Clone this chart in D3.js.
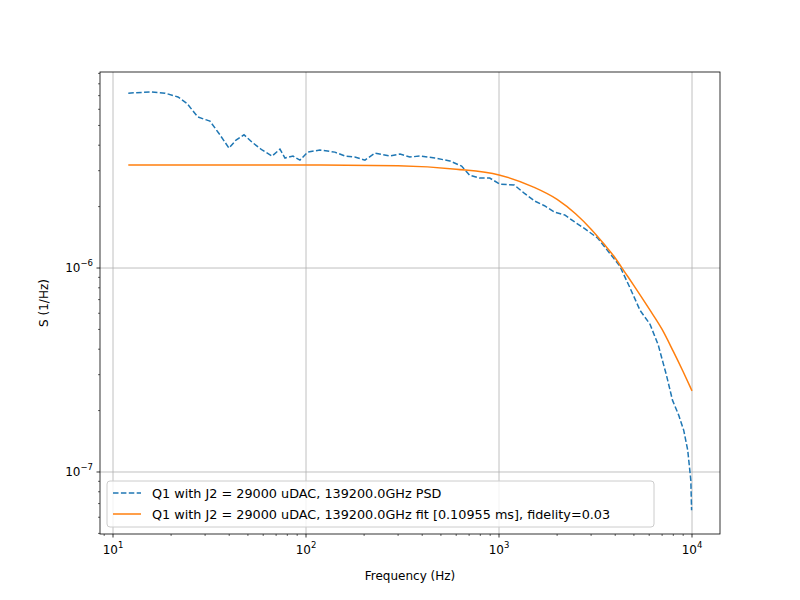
<!DOCTYPE html>
<html><head><meta charset="utf-8">
<script src="https://cdn.jsdelivr.net/npm/d3@7"></script>
<style>body{margin:0;background:#fff}text{font-family:"DejaVu Sans",sans-serif}</style>
</head><body><div id="chart"></div>
<script>
// PSD (frequency in Hz, S in 1/Hz)
const psdFreq = [12,15.5,18.6,21.7,24.2,27.5,31.8,35.8,39.9,43.4,47.7,52.5,59.2,66.7,73.3,77.8,85.6,93,102,118,141,159,179,202,228,272,307,345,390,465,556,640,705,795,895,1010,1200,1350,1530,1720,1940,2190,2470,2780,3250,3750,4230,4770,5380,6060,6680,7360,7920,8530,9060,9500,9860,9950];
const psdVal = [7.2e-6,7.3e-6,7.2e-6,6.9e-6,6.4e-6,5.5e-6,5.25e-6,4.5e-6,3.87e-6,4.24e-6,4.5e-6,4.14e-6,3.79e-6,3.54e-6,3.83e-6,3.46e-6,3.54e-6,3.38e-6,3.7e-6,3.79e-6,3.7e-6,3.54e-6,3.5e-6,3.38e-6,3.66e-6,3.54e-6,3.62e-6,3.5e-6,3.54e-6,3.46e-6,3.35e-6,3.16e-6,2.85e-6,2.76e-6,2.76e-6,2.58e-6,2.55e-6,2.33e-6,2.13e-6,2.02e-6,1.88e-6,1.82e-6,1.68e-6,1.56e-6,1.4e-6,1.18e-6,1.02e-6,0.8e-6,0.62e-6,0.53e-6,0.42e-6,0.30e-6,0.225e-6,0.19e-6,0.16e-6,0.128e-6,0.091e-6,0.065e-6];
// fit curve
const fitFreq = [12,100,300,600,1000,1500,2000,2500,3000,3500,4000,4500,5000,6000,7000,8000,9000,10000];
const fitVal = [3.2e-6,3.2e-6,3.17e-6,3.05e-6,2.86e-6,2.5e-6,2.17e-6,1.84e-6,1.55e-6,1.31e-6,1.12e-6,0.95e-6,0.82e-6,0.63e-6,0.5e-6,0.39e-6,0.31e-6,0.25e-6];
const xTicks = [10,100,1000,10000];
const yTicks = [1e-7,1e-6];
const legendLabels = ["Q1 with J2 = 29000 uDAC, 139200.0GHz PSD","Q1 with J2 = 29000 uDAC, 139200.0GHz fit [0.10955 ms], fidelity=0.03"];
const colors = ["#1f77b4","#ff7f0e"];

const W=800,H=600,L=100,R=720,T=72,B=534;
const svg=d3.select('#chart').append('svg').attr('width',W).attr('height',H);
const x=d3.scaleLog().domain([Math.pow(10,0.9326),Math.pow(10,4.145)]).range([L,R]);
const y=d3.scaleLog().domain([Math.pow(10,-7.304),Math.pow(10,-5.039)]).range([B,T]);

// grid
svg.append('g').selectAll('line').data(xTicks).join('line')
  .attr('x1',d=>x(d)).attr('x2',d=>x(d)).attr('y1',T).attr('y2',B).attr('stroke','#b0b0b0').attr('stroke-width',0.8);
svg.append('g').selectAll('line').data(yTicks).join('line')
  .attr('y1',d=>y(d)).attr('y2',d=>y(d)).attr('x1',L).attr('x2',R).attr('stroke','#b0b0b0').attr('stroke-width',0.8);

// minor ticks
const minorX=[];for(let e=0;e<4;e++)for(let m=2;m<10;m++){const v=m*Math.pow(10,e);if(v>x.domain()[0]&&v<x.domain()[1])minorX.push(v);}
const minorY=[];for(let e=-8;e<-4;e++)for(let m=2;m<10;m++){const v=m*Math.pow(10,e);if(v>y.domain()[0]&&v<y.domain()[1])minorY.push(v);}
svg.append('g').selectAll('line').data(minorX).join('line').attr('x1',d=>x(d)).attr('x2',d=>x(d)).attr('y1',B).attr('y2',B+2).attr('stroke','#000').attr('stroke-width',0.6);
svg.append('g').selectAll('line').data(minorY).join('line').attr('y1',d=>y(d)).attr('y2',d=>y(d)).attr('x1',L).attr('x2',L-2).attr('stroke','#000').attr('stroke-width',0.6);
svg.append('g').selectAll('line').data(xTicks).join('line').attr('x1',d=>x(d)).attr('x2',d=>x(d)).attr('y1',B).attr('y2',B+3.5).attr('stroke','#000').attr('stroke-width',0.8);
svg.append('g').selectAll('line').data(yTicks).join('line').attr('y1',d=>y(d)).attr('y2',d=>y(d)).attr('x1',L).attr('x2',L-3.5).attr('stroke','#000').attr('stroke-width',0.8);

// tick labels
const xl=svg.append('g').selectAll('text').data(xTicks).join('text')
  .attr('x',d=>x(d)).attr('y',B+20).attr('text-anchor','middle').attr('font-size',12);
xl.append('tspan').text('10');
xl.append('tspan').attr('dy',-6).attr('font-size',8.5).text(d=>Math.round(Math.log10(d)));
const yl=svg.append('g').selectAll('text').data(yTicks).join('text')
  .attr('x',L-7).attr('y',d=>y(d)+4).attr('text-anchor','end').attr('font-size',12);
yl.append('tspan').text('10');
yl.append('tspan').attr('dy',-6).attr('font-size',8.5).text(d=>'\u2212'+Math.round(-Math.log10(d)));

// lines
const line=d3.line().x(d=>x(d[0])).y(d=>y(d[1]));
svg.append('path').datum(psdFreq.map((f,i)=>[f,psdVal[i]])).attr('d',line)
  .attr('fill','none').attr('stroke',colors[0]).attr('stroke-width',1.5).attr('stroke-dasharray','5.5,2.4');
svg.append('path').datum(fitFreq.map((f,i)=>[f,fitVal[i]])).attr('d',line.curve(d3.curveMonotoneX))
  .attr('fill','none').attr('stroke',colors[1]).attr('stroke-width',1.5);

// frame
svg.append('rect').attr('x',L).attr('y',T).attr('width',R-L).attr('height',B-T).attr('fill','none').attr('stroke','#000').attr('stroke-width',0.8);

// axis labels
svg.append('text').attr('x',(L+R)/2).attr('y',580).attr('text-anchor','middle').attr('font-size',12).text('Frequency (Hz)');
svg.append('text').attr('transform',`translate(48,${(T+B)/2}) rotate(-90)`).attr('text-anchor','middle').attr('font-size',12).text('S (1/Hz)');

// legend
const lg=svg.append('g');
lg.append('rect').attr('x',107).attr('y',481).attr('width',547).attr('height',46).attr('rx',3)
  .attr('fill','#fff').attr('fill-opacity',0.8).attr('stroke','#ccc');
legendLabels.forEach((t,i)=>{
  const yy=493+i*21;
  lg.append('line').attr('x1',113).attr('x2',141).attr('y1',yy).attr('y2',yy).attr('stroke',colors[i]).attr('stroke-width',1.5)
    .attr('stroke-dasharray',i===0?'5.5,2.4':null);
  lg.append('text').attr('x',152).attr('y',yy+4.5).attr('font-size',12.8).text(t);
});
</script></body></html>
